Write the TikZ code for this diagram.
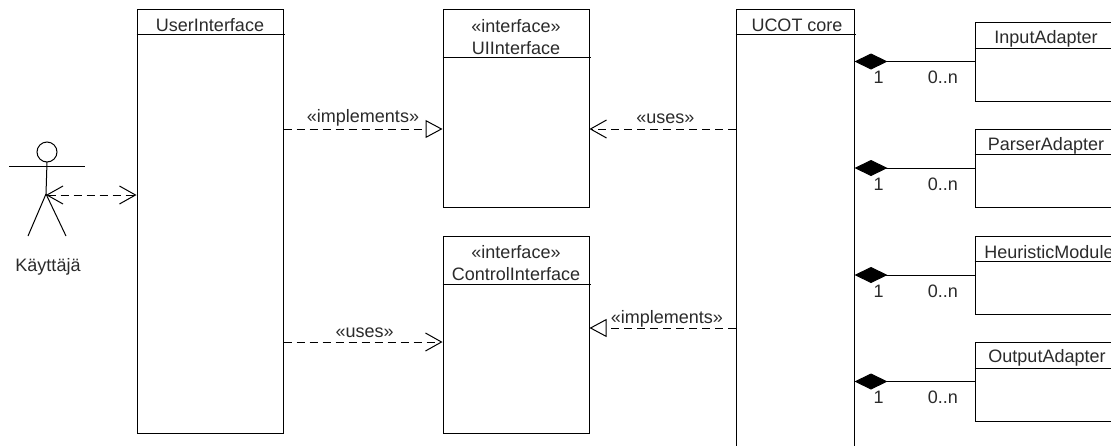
\documentclass[tikz,border=0pt]{standalone}
\usepackage{fontspec}
\setmainfont{Liberation Sans}
\usetikzlibrary{arrows.meta}
\definecolor{txt}{HTML}{2B2B2B}
\begin{document}
\begin{tikzpicture}[x=1pt,y=-1pt,line width=1pt,
  cls/.style={draw, inner sep=0pt, anchor=center},
  title/.style={inner sep=0pt, text=txt, font=\fontsize{18}{20}\selectfont, anchor=center},
  lbl/.style={inner sep=0pt, text=txt, font=\fontsize{18}{20}\selectfont, anchor=center},
  dep/.style={dash pattern=on 8pt off 5pt},
  vtip/.tip={Straight Barb[length=16pt,width=18pt,line width=1pt]},
  ttip/.tip={Triangle[open,length=17pt,width=18pt,line width=1pt]},
  dtip/.tip={Diamond[length=33pt,width=16pt,fill=black]},
  comp/.style={dtip-}]
\fill[white] (0,0) rectangle (1111,445);
\clip (0,0) rectangle (1111,445);

% classes
\node[cls, minimum width=146pt, minimum height=424pt] (ui) at (210,221) {};
\node[title] (uit) at (210,25) {UserInterface};
\draw ([yshift=-26pt]ui.north west) -- ([yshift=-26pt,xshift=1.5pt]ui.north east);

\node[cls, minimum width=146pt, minimum height=198pt] (uii) at (516,108) {};
\node[title] (uiis) at (516,26) {«interface»};
\node[title] (uiit) at (516,48) {UIInterface};
\draw ([yshift=-49pt]uii.north west) -- ([yshift=-49pt,xshift=1.5pt]uii.north east);

\node[cls, minimum width=146pt, minimum height=197pt] (ci) at (516,334.5) {};
\node[title] (cis) at (516,252) {«interface»};
\node[title] (cit) at (516,274) {ControlInterface};
\draw ([yshift=-49pt]ci.north west) -- ([yshift=-49pt,xshift=1.5pt]ci.north east);

\node[cls, minimum width=118pt, minimum height=462pt] (core) at (795,240) {};
\node[title] (coret) at (797,25) {UCOT core};
\draw ([yshift=-26pt]core.north west) -- ([yshift=-26pt,xshift=1.5pt]core.north east);

\node[cls, minimum width=142pt, minimum height=79pt] (inp) at (1046,61.5) {};
\node[title] (inpt) at (1046,39) {InputAdapter};
\draw ([yshift=-27pt]inp.north west) -- ([yshift=-27pt]inp.north east);

\node[cls, minimum width=142pt, minimum height=78pt] (par) at (1046,168) {};
\node[title] (part) at (1046,146) {ParserAdapter};
\draw ([yshift=-26pt]par.north west) -- ([yshift=-26pt]par.north east);

\node[cls, minimum width=142pt, minimum height=78pt] (heu) at (1046,275) {};
\node[title] (heut) at (1049,252) {HeuristicModule};
\draw ([yshift=-26pt]heu.north west) -- ([yshift=-26pt]heu.north east);

\node[cls, minimum width=142pt, minimum height=79pt] (out) at (1046,381.5) {};
\node[title] (outt) at (1047,358) {OutputAdapter};
\draw ([yshift=-27pt]out.north west) -- ([yshift=-27pt]out.north east);

% compositions
\foreach \n in {inp,par,heu,out}{
  \draw[comp] (\n.west -| core.east) -- (\n.west)
    node[lbl, pos=0.2, yshift=-16pt] {1}
    node[lbl, pos=0.736, yshift=-16pt] {0..n};
}

% actor
\draw (47,152) circle[radius=10pt];
\draw (9,166) -- (85,166);
\draw (47,162) -- (46,194);
\draw (46,194) -- (28,236);
\draw (46,194) -- (66,236);
\coordinate (actor) at (46,195);
\node[lbl] (actorl) at (48,267) {Käyttäjä};

% dependencies
\draw[dep, vtip-vtip] (actor) -- (actor -| ui.west);
\draw[dep, -ttip] (ui.east |- 0,129) -- (uii.west |- 0,129)
  node[lbl, midway, yshift=11pt] {«implements»};
\draw[dep, -vtip] (core.west |- 0,129) -- (uii.east |- 0,129)
  node[lbl, pos=0.48, yshift=10pt] {«uses»};
\draw[dep, -vtip] (ui.east |- 0,342) -- (ci.west |- 0,342)
  node[lbl, pos=0.51, yshift=9pt] {«uses»};
\draw[dep, -ttip] (core.west |- 0,328) -- (ci.east |- 0,328)
  node[lbl, pos=0.47, yshift=9pt] {«implements»};
\end{tikzpicture}
\end{document}
